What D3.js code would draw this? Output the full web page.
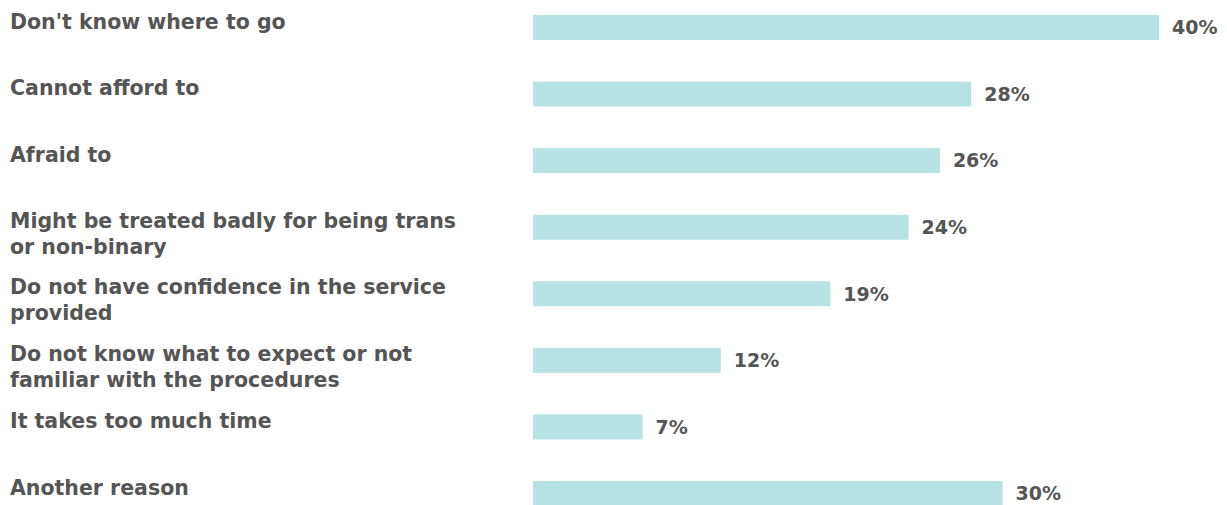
<!DOCTYPE html>
<html>
<head>
<meta charset="utf-8">
<script src="https://cdn.jsdelivr.net/npm/d3@7"></script>
<style>
  html, body { margin: 0; padding: 0; background: #fff; }
  svg { display: block; }
</style>
</head>
<body>
<svg id="chart" width="1227" height="505"></svg>
<script>
const categories = [
  ["Don't know where to go"],
  ["Cannot afford to"],
  ["Afraid to"],
  ["Might be treated badly for being trans", "or non-binary"],
  ["Do not have confidence in the service", "provided"],
  ["Do not know what to expect or not", "familiar with the procedures"],
  ["It takes too much time"],
  ["Another reason"]
];
const values = [40, 28, 26, 24, 19, 12, 7, 30];
const valueLabels = ["40%", "28%", "26%", "24%", "19%", "12%", "7%", "30%"];

const svg = d3.select("#chart");
const textColor = "#555555";
const barColor = "#b7e3e4";
const fontFamily = "'DejaVu Sans', sans-serif";

const x = d3.scaleLinear().domain([0, 40]).range([533, 1159]);
const y = d3.scaleBand()
  .domain(d3.range(categories.length))
  .range([15, 506])
  .paddingInner(0.625)
  .paddingOuter(0);

svg.selectAll("rect.bar")
  .data(values)
  .join("rect")
  .attr("class", "bar")
  .attr("x", x(0))
  .attr("y", (d, i) => y(i))
  .attr("width", d => x(d) - x(0))
  .attr("height", y.bandwidth())
  .attr("fill", barColor);

svg.selectAll("text.val")
  .data(values)
  .join("text")
  .attr("class", "val")
  .attr("x", d => x(d) + 13)
  .attr("y", (d, i) => y(i) + y.bandwidth() / 2)
  .attr("dy", "0.36em")
  .attr("font-family", fontFamily)
  .attr("font-weight", 700)
  .attr("font-size", 19)
  .attr("fill", textColor)
  .text((d, i) => valueLabels[i]);

const lineH = 26;
const labels = svg.selectAll("text.cat")
  .data(categories)
  .join("text")
  .attr("class", "cat")
  .attr("x", 10)
  .attr("y", (d, i) => y(i) + y.bandwidth() / 2 + (d.length > 1 ? -7 : -6))
  .attr("dy", "0.36em")
  .attr("font-family", fontFamily)
  .attr("font-weight", 700)
  .attr("font-size", 20.5)
  .attr("fill", textColor);

labels.selectAll("tspan")
  .data(d => d)
  .join("tspan")
  .attr("x", 10)
  .attr("dy", (d, j) => j === 0 ? "0.36em" : lineH)
  .text(d => d);
</script>
</body>
</html>
